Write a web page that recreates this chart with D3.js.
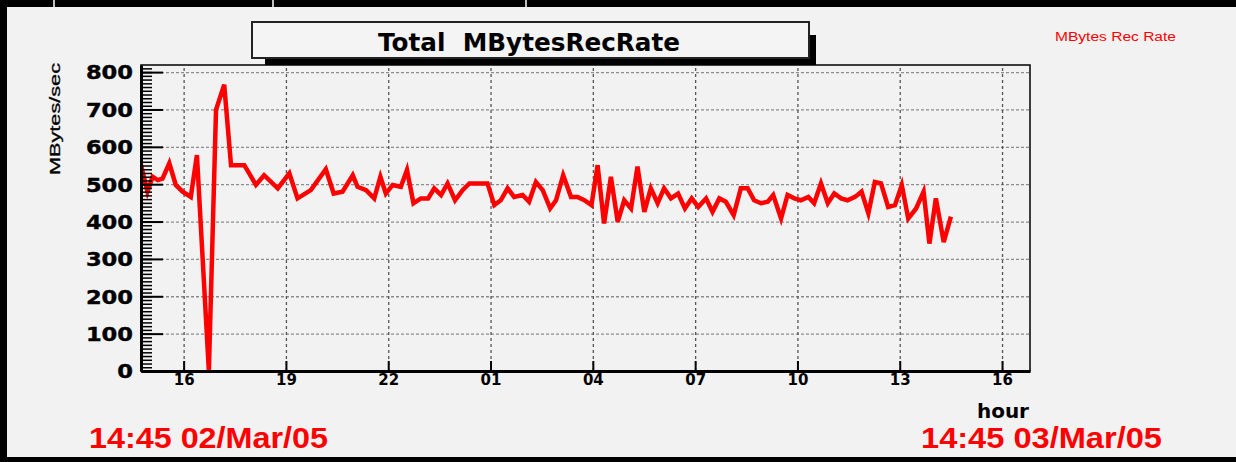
<!DOCTYPE html>
<html>
<head>
<meta charset="utf-8">
<script src="https://cdn.jsdelivr.net/npm/d3@7"></script>
<style>
body { margin: 0; background: #000; }
svg { display: block; }
</style>
</head>
<body>
<svg class="rate" width="1236" height="462"></svg>
<script>
// hours counted from 00:00 02/Mar/05
var hours = [14.75, 14.94, 15.09, 15.24, 15.38, 15.58, 15.77, 15.97, 16.21, 16.39,
  16.74, 16.95, 17.19, 17.39, 17.78, 18.12, 18.36, 18.76, 19.10, 19.34,
  19.73, 20.17, 20.40, 20.66, 20.96, 21.10, 21.35, 21.59, 21.77, 21.93,
  22.13, 22.37, 22.55, 22.74, 22.96, 23.17, 23.35, 23.55, 23.74, 23.96,
  24.18, 24.38, 24.67, 24.91, 25.11, 25.30, 25.50, 25.69, 25.94, 26.13,
  26.33, 26.53, 26.75, 26.92, 27.13, 27.36, 27.55, 27.75, 27.96, 28.14,
  28.33, 28.53, 28.73, 28.92, 29.12, 29.31, 29.51, 29.70, 29.90, 30.09,
  30.29, 30.50, 30.70, 30.90, 31.09, 31.32, 31.51, 31.71, 31.90, 32.13,
  32.34, 32.54, 32.73, 32.93, 33.13, 33.29, 33.52, 33.71, 33.91, 34.10,
  34.32, 34.49, 34.69, 34.89, 35.08, 35.28, 35.47, 35.69, 35.88, 36.08,
  36.27, 36.45, 36.66, 36.86, 37.06, 37.25, 37.48, 37.70, 37.87, 38.06,
  38.29, 38.50];
var rates = [551, 480, 520, 511, 515, 556, 498, 480, 466, 578,
  0, 699, 766, 551, 551, 498, 524, 489, 529, 462,
  484, 540, 475, 480, 524, 493, 484, 462, 520, 475,
  498, 493, 538, 449, 462, 462, 489, 471, 502, 457,
  484, 502, 502, 502, 444, 457, 489, 466, 471, 453,
  506, 484, 435, 457, 524, 466, 466, 457, 444, 551,
  395, 520, 399, 457, 435, 547, 426, 489, 449, 489,
  462, 475, 435, 462, 439, 462, 426, 462, 453, 417,
  489, 489, 457, 449, 453, 471, 408, 471, 462, 457,
  466, 449, 502, 449, 475, 462, 457, 466, 480, 422,
  506, 502, 439, 444, 498, 408, 435, 480, 341, 462,
  345, 413];
var hourTicks = [16, 19, 22, 25, 28, 31, 34, 37, 40];
var rateTicks = [0, 100, 200, 300, 400, 500, 600, 700, 800];
var title = "Total  MBytesRecRate",
    legendLabel = "MBytes Rec Rate",
    yLabel = "MBytes/sec",
    xLabel = "hour",
    startLabel = "14:45 02/Mar/05",
    endLabel = "14:45 03/Mar/05";

var day0 = new Date(2005, 2, 2);
function toDate(h) { return new Date(day0.getTime() + h * 3600000); }

var data = hours.map(function(h, i) { return {t: toDate(h), v: rates[i]}; });

var svg = d3.select(".rate"),
    margin = {top: 65, right: 206, bottom: 91, left: 141},
    width = +svg.attr("width") - margin.left - margin.right,
    height = +svg.attr("height") - margin.top - margin.bottom;

var bold = "'DejaVu Sans', sans-serif";
var helv = "'Liberation Sans', Arial, sans-serif";

// grey canvas
svg.append("rect")
    .attr("x", 7).attr("y", 7)
    .attr("width", 1229).attr("height", 450)
    .attr("fill", "#f2f2f2");
[54, 273, 526].forEach(function(px) {
  svg.append("line").attr("x1", px).attr("x2", px).attr("y1", 0).attr("y2", 7)
      .attr("stroke", "#fff").attr("stroke-width", 1.5);
});

var x = d3.scaleTime().domain([toDate(14.75), toDate(40.82)]).range([0, width]);
var y = d3.scaleLinear().domain([0, 819]).range([height, 0]);

var g = svg.append("g")
    .attr("transform", "translate(" + margin.left + "," + margin.top + ")");

// grid
var hgrid = g.append("g")
    .call(d3.axisLeft(y).tickValues(rateTicks.slice(1)).tickSize(-width).tickFormat(""));
hgrid.select(".domain").remove();
hgrid.selectAll("line").attr("stroke", "#8c8c8c").attr("stroke-width", 1.3).attr("stroke-dasharray", "3,2");

var vgrid = g.append("g")
    .attr("transform", "translate(0," + height + ")")
    .call(d3.axisBottom(x).tickValues(hourTicks.map(toDate)).tickSize(-height).tickFormat(""));
vgrid.select(".domain").remove();
vgrid.selectAll("line").attr("stroke", "#555").attr("stroke-width", 1.3).attr("stroke-dasharray", "3,3");

// the rate line
g.append("clipPath").attr("id", "plot")
  .append("rect").attr("width", width).attr("height", height);

g.append("path")
    .datum(data)
    .attr("clip-path", "url(#plot)")
    .attr("fill", "none")
    .attr("stroke", "#ff0000")
    .attr("stroke-width", 4.5)
    .attr("d", d3.line()
        .x(function(d) { return x(d.t); })
        .y(function(d) { return y(d.v); }));

// frame
g.append("rect")
    .attr("width", width).attr("height", height)
    .attr("fill", "none").attr("stroke", "#000").attr("stroke-width", 1.5);

// y axis: minor then major ticks
var yminor = g.append("g")
    .call(d3.axisLeft(y).tickValues(d3.range(0, 820, 10)).tickSizeInner(-11).tickSizeOuter(0).tickFormat(""));
yminor.select(".domain").remove();
yminor.selectAll("line").attr("stroke", "#000").attr("stroke-width", 1.5);

var yaxis = g.append("g")
    .call(d3.axisLeft(y).tickValues(rateTicks).tickSizeInner(-22).tickSizeOuter(0).tickPadding(8));
yaxis.select(".domain").attr("stroke-width", 3);
yaxis.selectAll("line").attr("stroke-width", 2);
yaxis.selectAll("text")
    .attr("font-family", bold).attr("font-weight", "bold").attr("font-size", 19)
    .attr("fill", "#000")
    .attr("stroke", "#000").attr("stroke-width", 0.4)
    .attr("textLength", function(d) { return String(d).length * 15.7; })
    .attr("lengthAdjust", "spacingAndGlyphs")
    .attr("dy", "0.36em");

// x axis
var xaxis = g.append("g")
    .attr("transform", "translate(0," + height + ")")
    .call(d3.axisBottom(x).tickValues(hourTicks.map(toDate)).tickSizeInner(-10).tickSizeOuter(0)
      .tickPadding(3).tickFormat(d3.timeFormat("%H")));
xaxis.select(".domain").attr("stroke-width", 3);
xaxis.selectAll("line").attr("stroke-width", 2);
xaxis.selectAll("text")
    .attr("font-family", bold).attr("font-weight", "bold").attr("font-size", 15)
    .attr("fill", "#000");

// title box with shadow
svg.append("rect")
    .attr("x", 265).attr("y", 35).attr("width", 551).attr("height", 30)
    .attr("fill", "#000");
svg.append("rect")
    .attr("x", 252).attr("y", 22).attr("width", 557).attr("height", 36)
    .attr("fill", "#f4f4f4").attr("stroke", "#222").attr("stroke-width", 2);
svg.append("text")
    .attr("x", 529).attr("y", 51)
    .attr("text-anchor", "middle")
    .style("white-space", "pre")
    .attr("font-family", bold).attr("font-weight", "bold").attr("font-size", 24)
    .attr("textLength", 302).attr("lengthAdjust", "spacingAndGlyphs")
    .text(title);

// legend
svg.append("text")
    .attr("x", 1055).attr("y", 41)
    .attr("font-family", helv).attr("font-size", 12)
    .attr("fill", "#ff0000")
    .attr("textLength", 121).attr("lengthAdjust", "spacingAndGlyphs")
    .text(legendLabel);

// axis titles
svg.append("text")
    .attr("transform", "translate(60,119) rotate(-90)")
    .attr("text-anchor", "middle")
    .attr("font-family", helv).attr("font-size", 15)
    .attr("stroke", "#000").attr("stroke-width", 0.3)
    .attr("textLength", 112).attr("lengthAdjust", "spacingAndGlyphs")
    .text(yLabel);

svg.append("text")
    .attr("x", 1029).attr("y", 418)
    .attr("text-anchor", "end")
    .attr("font-family", bold).attr("font-weight", "bold").attr("font-size", 20)
    .text(xLabel);

// time range labels
svg.append("text")
    .attr("x", 89).attr("y", 448)
    .attr("font-family", helv).attr("font-weight", "bold").attr("font-size", 30)
    .attr("fill", "#ff0000")
    .attr("textLength", 239).attr("lengthAdjust", "spacingAndGlyphs")
    .text(startLabel);

svg.append("text")
    .attr("x", 921).attr("y", 448)
    .attr("font-family", helv).attr("font-weight", "bold").attr("font-size", 30)
    .attr("fill", "#ff0000")
    .attr("textLength", 241).attr("lengthAdjust", "spacingAndGlyphs")
    .text(endLabel);
</script>
</body>
</html>
